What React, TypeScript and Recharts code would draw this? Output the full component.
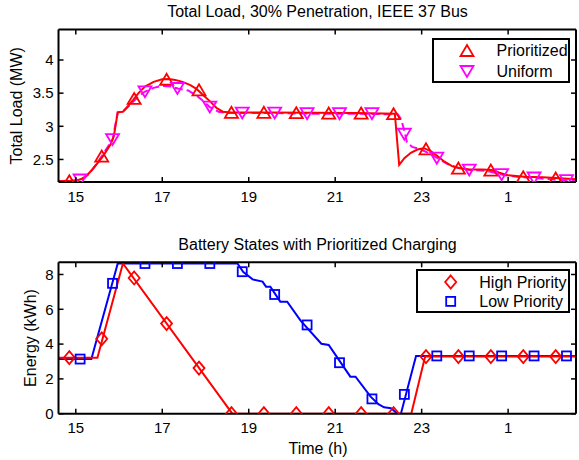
import React from 'react';
import { ComposedChart, Line, XAxis, YAxis, Legend } from 'recharts';

// hours on the x axis; anything past 24 is after midnight
const hourTicks = [15, 17, 19, 21, 23, 25];
const loadTicks = [2.5, 3, 3.5, 4];
const energyTicks = [0, 2, 4, 6, 8];

// total load (MW), [hour, value]
const prioritizedLoad: [number, number][] = [
  [14.6, 2.17], [15.0, 2.18], [15.2, 2.22], [15.4, 2.36], [15.63, 2.55], [15.8, 2.72],
  [15.88, 2.85], [15.97, 3.21], [16.09, 3.22], [16.2, 3.3], [16.32, 3.39], [16.45, 3.5],
  [16.6, 3.6], [16.8, 3.67], [17.0, 3.71], [17.15, 3.715], [17.3, 3.7], [17.47, 3.67],
  [17.65, 3.62], [17.8, 3.56], [17.95, 3.47], [18.1, 3.38], [18.25, 3.28], [18.4, 3.22],
  [18.6, 3.21], [19.5, 3.21], [20.5, 3.205], [21.5, 3.2], [22.38, 3.19], [22.48, 2.42],
  [22.6, 2.52], [22.75, 2.6], [22.9, 2.65], [23.05, 2.67], [23.2, 2.63], [23.35, 2.56],
  [23.5, 2.48], [23.7, 2.4], [23.86, 2.37], [24.1, 2.35], [24.4, 2.35], [24.62, 2.34],
  [24.8, 2.3], [25.0, 2.26], [25.37, 2.24], [25.8, 2.23], [26.1, 2.22], [26.57, 2.2],
];
const uniformLoad: [number, number][] = [
  [14.6, 2.17], [15.1, 2.19], [15.3, 2.28], [15.5, 2.45], [15.7, 2.65], [15.85, 2.8],
  [15.97, 3.21], [16.09, 3.22], [16.25, 3.32], [16.45, 3.45], [16.59, 3.52], [16.8, 3.58],
  [17.0, 3.61], [17.2, 3.6], [17.36, 3.57], [17.6, 3.54], [17.8, 3.46], [17.95, 3.38],
  [18.1, 3.29], [18.3, 3.22], [18.5, 3.2], [19.5, 3.2], [20.5, 3.19], [21.5, 3.19],
  [22.45, 3.18], [22.53, 3.1], [22.6, 2.93], [22.66, 2.76], [22.78, 2.69], [22.95, 2.66],
  [23.15, 2.6], [23.37, 2.52], [23.6, 2.43], [23.86, 2.37], [24.12, 2.34], [24.5, 2.33],
  [24.87, 2.27], [25.2, 2.24], [25.62, 2.22], [26.0, 2.2], [26.37, 2.18], [26.57, 2.17],
];
const prioritizedMarks: [number, number][] = [
  [14.85, 2.18], [15.6, 2.55], [16.35, 3.42], [17.1, 3.71], [17.85, 3.55], [18.6, 3.21],
  [19.35, 3.21], [20.1, 3.205], [20.85, 3.2], [21.6, 3.2], [22.35, 3.19], [23.1, 2.66],
  [23.85, 2.37], [24.6, 2.34], [25.35, 2.24], [26.1, 2.22],
];
const uniformMarks: [number, number][] = [
  [15.1, 2.19], [15.85, 2.8], [16.6, 3.52], [17.35, 3.57], [18.1, 3.29], [18.85, 3.2],
  [19.6, 3.2], [20.35, 3.19], [21.1, 3.19], [21.85, 3.19], [22.6, 2.88], [23.35, 2.52],
  [24.1, 2.34], [24.85, 2.27], [25.6, 2.22], [26.35, 2.18],
];

// battery energy (kWh), [hour, value]
const highPriority: [number, number][] = [
  [14.6, 3.22], [15.5, 3.22], [16.09, 8.63], [18.62, 0], [22.76, 0], [23.08, 3.28], [26.57, 3.28],
];
const lowPriority: [number, number][] = [
  [14.6, 3.14], [15.36, 3.14], [15.97, 8.63], [18.74, 8.63], [18.87, 8.16], [19.09, 7.72],
  [19.32, 7.59], [19.4, 7.3], [19.5, 7.3], [19.73, 6.44], [19.89, 6.44], [20.2, 5.35],
  [20.68, 4.02], [20.85, 3.95], [21.35, 2.13], [21.47, 2.13], [21.82, 0.98], [22.0, 0.55],
  [22.13, 0.37], [22.29, 0.31], [22.44, 0], [22.52, 0], [22.87, 3.32], [26.57, 3.32],
];
const highMarks: [number, number][] = [
  [14.85, 3.22], [15.6, 4.3], [16.35, 7.8], [17.1, 5.18], [17.85, 2.62], [18.6, 0],
  [19.35, 0], [20.1, 0], [20.85, 0], [21.6, 0], [22.35, 0], [23.1, 3.28],
  [23.85, 3.28], [24.6, 3.28], [25.35, 3.28], [26.1, 3.28],
];
const lowMarks: [number, number][] = [
  [15.1, 3.14], [15.85, 7.49], [16.6, 8.63], [17.35, 8.63], [18.1, 8.63], [18.85, 8.16],
  [19.6, 6.85], [20.35, 5.1], [21.1, 2.93], [21.85, 0.85], [22.6, 1.11], [23.35, 3.32],
  [24.1, 3.32], [24.85, 3.32], [25.6, 3.32], [26.35, 3.32],
];

const RED = '#ff0000';
const MAGENTA = '#ff00ff';
const BLUE = '#0000ff';
const FONT = '"Liberation Sans", Arial, Helvetica, sans-serif';

const pts = (a: [number, number][]) => a.map(([t, v]) => ({ t, v }));
const hourLabel = (h: number) => String(h > 24 ? h - 24 : h);

type Shape = 'up' | 'down' | 'diamond' | 'square';

function Marker({ cx, cy, shape, color }: { cx: number; cy: number; shape: Shape; color: string }) {
  const sw = 1.8;
  if (shape === 'up' || shape === 'down') {
    const w = 6.5, h = 5.5;
    const d = shape === 'up' ? 1 : -1;
    const p = `${cx - w},${cy + d * h} ${cx + w},${cy + d * h} ${cx},${cy - d * h}`;
    return <polygon points={p} fill="none" stroke={color} strokeWidth={sw} />;
  }
  if (shape === 'diamond') {
    const p = `${cx},${cy - 6.5} ${cx + 5.5},${cy} ${cx},${cy + 6.5} ${cx - 5.5},${cy}`;
    return <polygon points={p} fill="none" stroke={color} strokeWidth={sw} />;
  }
  return <rect x={cx - 4.5} y={cy - 4.5} width={9} height={9} fill="none" stroke={color} strokeWidth={sw} />;
}

const dotOf = (shape: Shape, color: string) => (p: any) =>
  p.cx == null ? <g key={p.index} /> : <Marker key={p.index} cx={p.cx} cy={p.cy} shape={shape} color={color} />;

// matlab style ticks: pointing into the box
const LeftTick = ({ x, y, payload }: any) => (
  <g>
    <line x1={x} x2={x + 5} y1={y} y2={y} stroke="#000" strokeWidth={1.5} />
    <text x={x - 5} y={y} dy="0.35em" textAnchor="end" fontSize={15} fontFamily={FONT} fill="#000">
      {payload.value}
    </text>
  </g>
);
const RightTick = ({ x, y }: any) => <line x1={x} x2={x - 5} y1={y} y2={y} stroke="#000" strokeWidth={1.5} />;
const BottomTick = ({ x, y, payload }: any) => (
  <g>
    <line x1={x} x2={x} y1={y} y2={y - 5} stroke="#000" strokeWidth={1.5} />
    <text x={x} y={y + 14.5} dy="0.35em" textAnchor="middle" fontSize={15} fontFamily={FONT} fill="#000">
      {hourLabel(payload.value)}
    </text>
  </g>
);
const TopTick = ({ x, y }: any) => <line x1={x} x2={x} y1={y} y2={y + 5} stroke="#000" strokeWidth={1.5} />;

interface LegendItem {
  name: string;
  shape: Shape;
  color: string;
}
const loadLegend: LegendItem[] = [
  { name: 'Prioritized', shape: 'up', color: RED },
  { name: 'Uniform', shape: 'down', color: MAGENTA },
];
const batteryLegend: LegendItem[] = [
  { name: 'High Priority', shape: 'diamond', color: RED },
  { name: 'Low Priority', shape: 'square', color: BLUE },
];

function LegendBox({ items, w, h, mx, tx, rows }: { items: LegendItem[]; w: number; h: number; mx: number; tx: number; rows: number[] }) {
  return (
    <svg width={w} height={h} style={{ display: 'block' }}>
      <rect x={1} y={1} width={w - 2} height={h - 2} fill="#fff" stroke="#000" strokeWidth={2} />
      {items.map((it, i) => (
        <g key={it.name}>
          <Marker cx={mx} cy={rows[i]} shape={it.shape} color={it.color} />
          <text x={tx} y={rows[i]} dy="0.35em" fontSize={16} fontFamily={FONT} fill="#000">
            {it.name}
          </text>
        </g>
      ))}
    </svg>
  );
}

const axisLine = { stroke: '#000', strokeWidth: 2 };
const xDomain = [14.6, 26.57];

function Axes({ yDomain, yTicks }: { yDomain: number[]; yTicks: number[] }) {
  return null;
}

export default function App() {
  return (
    <div style={{ position: 'absolute', left: 0, top: 0, width: 579, height: 460, background: '#fff', fontFamily: FONT }}>
      <div style={{ position: 'absolute', left: 0, top: 0 }}>
        <ComposedChart width={579} height={230} margin={{ top: 0, right: 0, bottom: 0, left: 0 }}>
          <XAxis xAxisId="b" dataKey="t" type="number" domain={xDomain} ticks={hourTicks} allowDataOverflow
            height={48} tickSize={0} tickMargin={0} tickLine={false} axisLine={axisLine} tick={<BottomTick />} interval={0} />
          <XAxis xAxisId="top" orientation="top" dataKey="t" type="number" domain={xDomain} ticks={hourTicks} allowDataOverflow
            height={29.5} tickSize={0} tickMargin={0} tickLine={false} axisLine={axisLine} tick={<TopTick />} interval={0} />
          <YAxis yAxisId="l" type="number" domain={[2.16, 4.46]} ticks={loadTicks} allowDataOverflow
            width={58.5} tickSize={0} tickMargin={0} tickLine={false} axisLine={axisLine} tick={<LeftTick />} interval={0} />
          <YAxis yAxisId="r" orientation="right" type="number" domain={[2.16, 4.46]} ticks={loadTicks} allowDataOverflow
            width={3} tickSize={0} tickMargin={0} tickLine={false} axisLine={axisLine} tick={<RightTick />} interval={0} />
          <Line xAxisId="b" yAxisId="l" data={pts(uniformLoad)} dataKey="v" type="linear" stroke={MAGENTA}
            strokeWidth={2} strokeDasharray="8 4" dot={false} isAnimationActive={false} legendType="none" />
          <Line xAxisId="b" yAxisId="l" data={pts(prioritizedLoad)} dataKey="v" type="linear" stroke={RED}
            strokeWidth={2} dot={false} isAnimationActive={false} legendType="none" />
          <Line xAxisId="b" yAxisId="l" data={pts(prioritizedMarks)} dataKey="v" name="Prioritized" stroke="none"
            dot={dotOf('up', RED)} activeDot={false} isAnimationActive={false} />
          <Line xAxisId="b" yAxisId="l" data={pts(uniformMarks)} dataKey="v" name="Uniform" stroke="none"
            dot={dotOf('down', MAGENTA)} activeDot={false} isAnimationActive={false} />
          <Legend layout="vertical" align="center" verticalAlign="middle" width={138} height={45}
            wrapperStyle={{ left: 431.5, top: 37.5, width: 138, height: 45 }}
            content={() => <LegendBox items={loadLegend} w={138} h={45} mx={35} tx={64.5} rows={[12.5, 33.5]} />} />
        </ComposedChart>
      </div>
      <div style={{ position: 'absolute', left: 0, top: 230 }}>
        <ComposedChart width={579} height={230} margin={{ top: 0, right: 0, bottom: 0, left: 0 }}>
          <XAxis xAxisId="b" dataKey="t" type="number" domain={xDomain} ticks={hourTicks} allowDataOverflow
            height={46.3} tickSize={0} tickMargin={0} tickLine={false} axisLine={axisLine} tick={<BottomTick />} interval={0} />
          <XAxis xAxisId="top" orientation="top" dataKey="t" type="number" domain={xDomain} ticks={hourTicks} allowDataOverflow
            height={32.3} tickSize={0} tickMargin={0} tickLine={false} axisLine={axisLine} tick={<TopTick />} interval={0} />
          <YAxis yAxisId="l" type="number" domain={[0, 8.7]} ticks={energyTicks} allowDataOverflow
            width={58.5} tickSize={0} tickMargin={0} tickLine={false} axisLine={axisLine} tick={<LeftTick />} interval={0} />
          <YAxis yAxisId="r" orientation="right" type="number" domain={[0, 8.7]} ticks={energyTicks} allowDataOverflow
            width={3} tickSize={0} tickMargin={0} tickLine={false} axisLine={axisLine} tick={<RightTick />} interval={0} />
          <Line xAxisId="b" yAxisId="l" data={pts(lowPriority)} dataKey="v" type="linear" stroke={BLUE}
            strokeWidth={2} dot={false} isAnimationActive={false} legendType="none" />
          <Line xAxisId="b" yAxisId="l" data={pts(highPriority)} dataKey="v" type="linear" stroke={RED}
            strokeWidth={2} dot={false} isAnimationActive={false} legendType="none" />
          <Line xAxisId="b" yAxisId="l" data={pts(highMarks)} dataKey="v" name="High Priority" stroke="none"
            dot={dotOf('diamond', RED)} activeDot={false} isAnimationActive={false} />
          <Line xAxisId="b" yAxisId="l" data={pts(lowMarks)} dataKey="v" name="Low Priority" stroke="none"
            dot={dotOf('square', BLUE)} activeDot={false} isAnimationActive={false} />
          <Legend layout="vertical" align="center" verticalAlign="middle" width={154} height={44}
            wrapperStyle={{ left: 416, top: 39.3, width: 154, height: 44 }}
            content={() => <LegendBox items={batteryLegend} w={154} h={44} mx={34.7} tx={63.3} rows={[13, 32.4]} />} />
        </ComposedChart>
      </div>
      <svg width={579} height={460} style={{ position: 'absolute', left: 0, top: 0, pointerEvents: 'none' }}>
        <g fontFamily={FONT} fontSize={16} fill="#000" textAnchor="middle">
          <text x={317.5} y={11.7} dy="0.35em">Total Load, 30% Penetration, IEEE 37 Bus</text>
          <text x={317.5} y={244} dy="0.35em">Battery States with Prioritized Charging</text>
          <text x={318} y={448} dy="0.35em">Time (h)</text>
          <text transform="translate(16.7,105.8) rotate(-90)" dy="0.35em">Total Load (MW)</text>
          <text transform="translate(30,338) rotate(-90)" dy="0.35em">Energy (kWh)</text>
        </g>
      </svg>
    </div>
  );
}
